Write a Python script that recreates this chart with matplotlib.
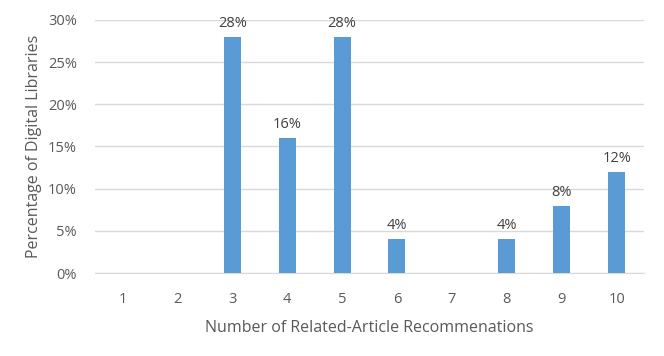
import matplotlib.pyplot as plt
import numpy as np

plt.rcParams['font.family'] = ['Open Sans', 'DejaVu Sans']

categories = ["1", "2", "3", "4", "5", "6", "7", "8", "9", "10"]
values = [0, 0, 28, 16, 28, 4, 0, 4, 8, 12]

text_color = "#595959"
fig = plt.figure(figsize=(6.64, 3.56), dpi=100)
ax = fig.add_axes([0.143, 0.233, 0.827, 0.711])

x = np.arange(len(categories))
ax.bar(x, values, width=0.31, color="#5B9BD5", zorder=3)
for xi, v in zip(x, values):
    if v > 0:
        ax.text(xi, v + 0.7, f"{v}%", ha="center", va="bottom",
                fontsize=10.5, color="#404040")

ax.set_xlim(-0.5, len(categories) - 0.5)
ax.set_ylim(0, 30)
ax.set_yticks(range(0, 31, 5))
ax.set_yticklabels([f"{t}%" for t in range(0, 31, 5)])
ax.set_xticks(x)
ax.set_xticklabels(categories)
ax.grid(axis="y", color="#D9D9D9", linewidth=1, zorder=0)
for s in ["top", "right", "left"]:
    ax.spines[s].set_visible(False)
ax.spines["bottom"].set_color("#D9D9D9")
ax.tick_params(length=0, colors=text_color, labelsize=10.5, pad=14)
ax.tick_params(axis="y", pad=13)

ax.set_xlabel("Number of Related-Article Recommenations", fontsize=11.5, color=text_color, labelpad=9)
ax.set_ylabel("Percentage of Digital Libraries", fontsize=11.5, color=text_color, labelpad=4)

fig.savefig("out.png", dpi=100)
